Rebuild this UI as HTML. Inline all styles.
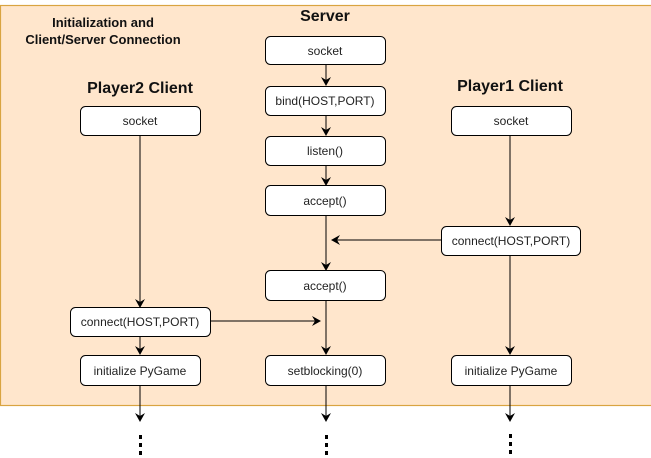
<!DOCTYPE html>
<html><head><style>
html,body{margin:0;padding:0;background:#fff;}
svg{display:block;}
text{font-family:"Liberation Sans",Arial,sans-serif;}
</style></head><body>
<svg width="651" height="458" viewBox="0 0 651 458" xmlns="http://www.w3.org/2000/svg">
<defs>
<marker id="a" markerWidth="10" markerHeight="10" refX="8" refY="5" orient="auto" markerUnits="userSpaceOnUse">
<path d="M0,0 L9,5 L0,10 L3,5 Z" fill="#000"/>
</marker>
</defs>
<rect x="0.5" y="5.5" width="660" height="400" fill="#ffe6cc" stroke="#d9a441" stroke-width="1.2"/>
<text x="103" y="27" font-size="13" font-weight="bold" text-anchor="middle" fill="#111">Initialization and</text>
<text x="103" y="44" font-size="13" font-weight="bold" text-anchor="middle" fill="#111">Client/Server Connection</text>
<text x="325" y="21" font-size="16" font-weight="bold" text-anchor="middle" fill="#111">Server</text>
<text x="140" y="93" font-size="16" font-weight="bold" text-anchor="middle" fill="#111">Player2 Client</text>
<text x="510" y="91" font-size="16" font-weight="bold" text-anchor="middle" fill="#111">Player1 Client</text>

<g stroke="#000" stroke-width="1" fill="none">
<line x1="326" y1="64" x2="326" y2="85" marker-end="url(#a)"/>
<line x1="326" y1="115" x2="326" y2="135" marker-end="url(#a)"/>
<line x1="326" y1="165" x2="326" y2="185" marker-end="url(#a)"/>
<line x1="326" y1="215" x2="326" y2="270" marker-end="url(#a)"/>
<line x1="326" y1="300" x2="326" y2="354" marker-end="url(#a)"/>
<line x1="326" y1="385" x2="326" y2="421" marker-end="url(#a)"/>
<line x1="140" y1="135" x2="140" y2="307" marker-end="url(#a)"/>
<line x1="140" y1="336" x2="140" y2="354" marker-end="url(#a)"/>
<line x1="140" y1="385" x2="140" y2="421" marker-end="url(#a)"/>
<line x1="510" y1="135" x2="510" y2="225" marker-end="url(#a)"/>
<line x1="510" y1="255" x2="510" y2="354" marker-end="url(#a)"/>
<line x1="510" y1="385" x2="510" y2="421" marker-end="url(#a)"/>
<line x1="441" y1="240" x2="332" y2="240" marker-end="url(#a)"/>
<line x1="210" y1="321" x2="320" y2="321" marker-end="url(#a)"/>
</g>

<g fill="#fff" stroke="#000" stroke-width="1">
<rect x="265.5" y="36.5" width="120" height="28" rx="5"/>
<rect x="265.5" y="86.5" width="120" height="29" rx="5"/>
<rect x="265.5" y="136.5" width="120" height="29" rx="5"/>
<rect x="265.5" y="185.5" width="120" height="30" rx="5"/>
<rect x="265.5" y="270.5" width="120" height="30" rx="5"/>
<rect x="265.5" y="355.5" width="120" height="30" rx="5"/>
<rect x="80.5" y="106.5" width="120" height="29" rx="5"/>
<rect x="70.5" y="307.5" width="140" height="29" rx="5"/>
<rect x="80.5" y="355.5" width="120" height="30" rx="5"/>
<rect x="451.5" y="106.5" width="120" height="29" rx="5"/>
<rect x="441.5" y="226.5" width="139" height="29" rx="5"/>
<rect x="451.5" y="355.5" width="120" height="30" rx="5"/>
</g>
<g font-size="12" text-anchor="middle" fill="#222">
<text x="325" y="55">socket</text>
<text x="325" y="105">bind(HOST,PORT)</text>
<text x="325" y="155">listen()</text>
<text x="325" y="205">accept()</text>
<text x="325" y="290">accept()</text>
<text x="325" y="375">setblocking(0)</text>
<text x="140" y="125">socket</text>
<text x="140" y="326">connect(HOST,PORT)</text>
<text x="140" y="375">initialize PyGame</text>
<text x="511" y="125">socket</text>
<text x="511" y="245">connect(HOST,PORT)</text>
<text x="511" y="375">initialize PyGame</text>
</g>
<g fill="#000">
<rect x="139" y="435" width="3" height="4"/><rect x="139" y="443" width="3" height="4"/><rect x="139" y="451" width="3" height="4"/>
<rect x="325" y="435" width="3" height="4"/><rect x="325" y="443" width="3" height="4"/><rect x="325" y="451" width="3" height="4"/>
<rect x="509" y="434" width="3" height="4"/><rect x="509" y="442" width="3" height="4"/><rect x="509" y="450" width="3" height="4"/>
</g>
</svg>
</body></html>
